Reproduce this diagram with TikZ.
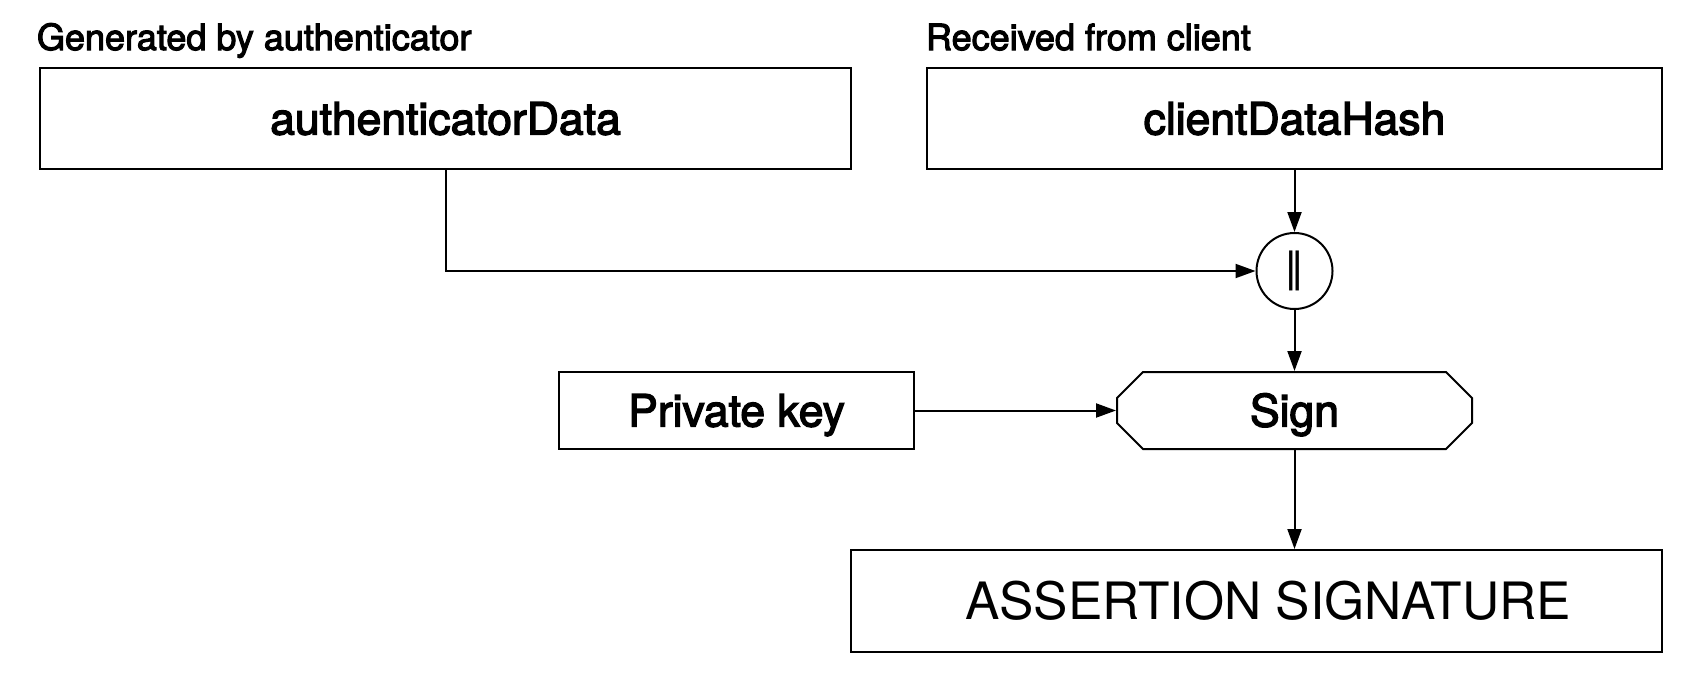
\documentclass[tikz,border=0pt]{standalone}
\usepackage{fontspec}
\setmainfont{TeX Gyre Heros}
\newfontfamily\medfont{TeX Gyre Heros}[FakeBold=3]
\newfontfamily\symfont{DejaVu Sans}
\usetikzlibrary{arrows.meta,shapes.misc}
\begin{document}
\begin{tikzpicture}[x=1pt,y=-1pt,
  line width=2pt,
  box/.style={draw,rectangle,inner sep=0pt,text height=32pt,text depth=0pt,font=\medfont\fontsize{44.5}{50}\selectfont},
  grouplabel/.style={anchor=base west,inner sep=0pt,font=\medfont\fontsize{36}{40}\selectfont},
  arr/.style={-{Triangle[length=20pt,width=14pt]}}]
\useasboundingbox (0,0) rectangle (1700,694);
\node[grouplabel] (lab1) at (36,50) {Generated by authenticator};
\node[grouplabel] (lab2) at (925,50) {Received from client};
\node[box,minimum width=811pt,minimum height=101pt] (ad) at (445.5,118.5) {authenticatorData};
\node[box,minimum width=735pt,minimum height=101pt] (cdh) at (1294.5,118.5) {clientDataHash};
\node[draw,circle,minimum size=76pt,inner sep=0pt,font=\symfont\fontsize{40}{44}\selectfont] (cat) at (1294.5,271) {‖};
\node[box,chamfered rectangle,chamfered rectangle xsep=13pt,chamfered rectangle ysep=13pt,minimum width=355pt,minimum height=77pt] (sign) at (1294.5,410.5) {Sign};
\node[box,minimum width=355pt,minimum height=77pt] (pk) at (736.5,410.5) {Private key};
\node[box,minimum width=811pt,minimum height=102pt,text height=37pt,font=\fontsize{51.5}{56}\selectfont] (as) at (1256.5,601) {\hspace*{23pt}ASSERTION SIGNATURE};
\draw[arr] (cdh.south) -- (cat.north);
\draw[arr] (ad.south) |- (cat.west);
\draw[arr] (cat.south) -- (sign.north);
\draw[arr] (pk.east) -- (sign.west);
\draw[arr] (sign.south) -- (sign.south |- as.north);
\end{tikzpicture}
\end{document}
